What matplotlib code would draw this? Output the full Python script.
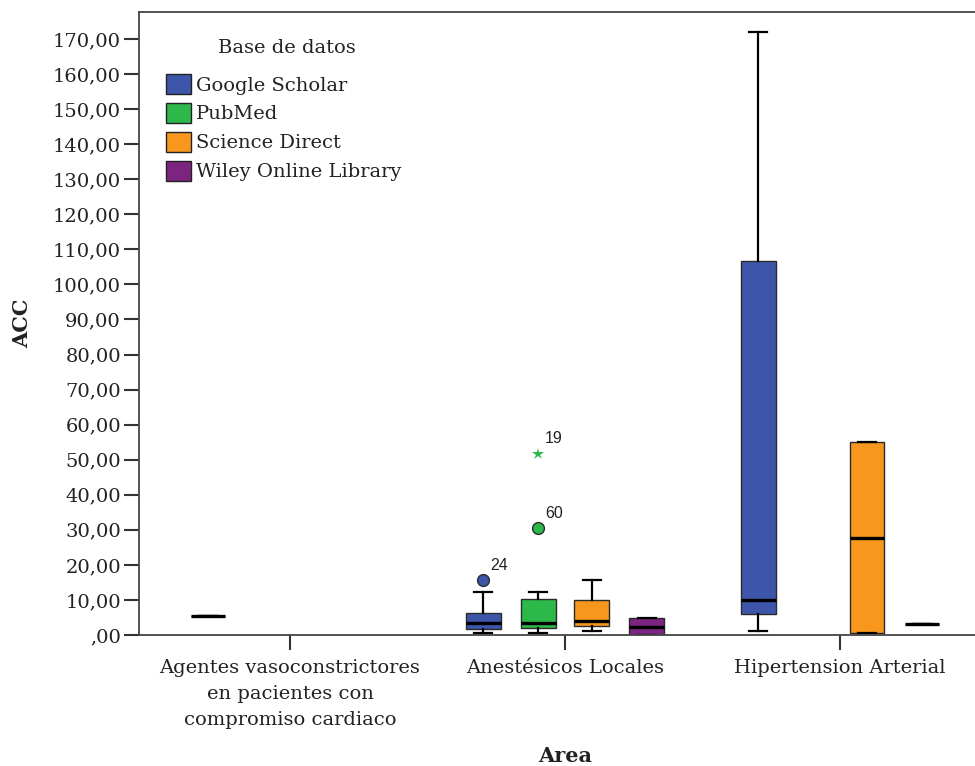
import matplotlib
matplotlib.use("Agg")
import matplotlib.pyplot as plt
from matplotlib.patches import Patch
from matplotlib.ticker import FuncFormatter

# ---- data -------------------------------------------------------------
categories = [
    "Agentes vasoconstrictores\nen pacientes con\ncompromiso cardiaco",
    "Anestésicos Locales",
    "Hipertension Arterial",
]
series = ["Google Scholar", "PubMed", "Science Direct", "Wiley Online Library"]
colors = ["#3d56a9", "#2db84a", "#f7971e", "#7b2580"]

# five-number summaries per category: (whisker low, Q1, median, Q3, whisker high)
google_scholar = [(5.5, 5.5, 5.5, 5.5, 5.5),
                  (0.5, 1.7, 3.3, 6.2, 12.4),
                  (1.0, 6.1, 10.0, 106.8, 172.0)]
pubmed = [None,
          (0.5, 2.1, 3.3, 10.2, 12.4),
          None]
science_direct = [None,
                  (1.2, 2.6, 4.0, 10.0, 15.7),
                  (0.5, 0.5, 27.7, 55.0, 55.0)]
wiley = [None,
         (0.0, 0.0, 2.4, 4.9, 4.9),
         (3.0, 3.0, 3.0, 3.0, 3.0)]
summaries = [google_scholar, pubmed, science_direct, wiley]

# outlying cases
outlier_series = [0, 1, 1]
outlier_category = [1, 1, 1]
outlier_values = [15.6, 30.4, 51.7]
outlier_labels = ["24", "60", "19"]
outlier_extreme = [False, False, True]

yticks = list(range(0, 171, 10))

# ---- figure -----------------------------------------------------------
fig = plt.figure(figsize=(9.75, 7.66), dpi=100)
ax = fig.add_axes([139 / 975, 1 - 635 / 766, 852 / 975, 623 / 766])

offsets = [-0.298, -0.098, 0.098, 0.298]
box_w = 0.127

for s_idx, data in enumerate(summaries):
    stats, pos = [], []
    for c_idx, five in enumerate(data):
        if five is None:
            continue
        lo, q1, med, q3, hi = five
        stats.append(dict(whislo=lo, q1=q1, med=med, q3=q3, whishi=hi, fliers=[]))
        pos.append(c_idx + offsets[s_idx])
    ax.bxp(stats, positions=pos, widths=box_w, capwidths=box_w * 0.5,
           patch_artist=True, showfliers=False, manage_ticks=False,
           boxprops=dict(facecolor=colors[s_idx], edgecolor="#2a2a2a", linewidth=1.0),
           medianprops=dict(color="black", linewidth=2.4, solid_capstyle="butt"),
           whiskerprops=dict(color="black", linewidth=1.6),
           capprops=dict(color="black", linewidth=1.6))

for s_idx, c_idx, val, lab, extreme in zip(outlier_series, outlier_category,
                                           outlier_values, outlier_labels,
                                           outlier_extreme):
    x = c_idx + offsets[s_idx]
    if extreme:
        ax.plot(x, val, marker="*", markersize=9, color=colors[s_idx],
                markeredgewidth=0, linestyle="none")
    else:
        ax.plot(x, val, marker="o", markersize=8.5, markerfacecolor=colors[s_idx],
                markeredgecolor="#2a2a2a", markeredgewidth=1.0, linestyle="none")
    ax.annotate(lab, (x, val), xytext=(5, 11), textcoords="offset points",
                ha="left", va="center", fontsize=11.5,
                family=["Liberation Sans", "DejaVu Sans"], color="#222222")

# ---- axes styling -----------------------------------------------------
serif = ["DejaVu Serif"]
ax.set_xlim(-0.549, 2.549)
ax.set_ylim(0, 177.7)
ax.set_yticks(yticks)
ax.yaxis.set_major_formatter(FuncFormatter(
    lambda v, p: ",00" if v == 0 else f"{int(v)},00"))
ax.set_xticks(range(len(categories)))
ax.set_xticklabels(categories, linespacing=1.57)

for lab in ax.get_xticklabels() + ax.get_yticklabels():
    lab.set_family(serif)
    lab.set_fontsize(14)
    lab.set_color("#222222")

ax.tick_params(axis="both", direction="out", length=11, width=1.5, color="#333333")
ax.tick_params(axis="y", pad=2)
ax.tick_params(axis="x", pad=6)

for side in ["left", "bottom", "top"]:
    ax.spines[side].set_color("#444444")
    ax.spines[side].set_linewidth(1.3)
ax.spines["right"].set_visible(False)

ax.set_ylabel("ACC", family=serif, fontsize=15, fontweight="bold", color="#222222")
ax.yaxis.set_label_coords(-0.126, 0.5)
ax.set_xlabel("Area", family=serif, fontsize=15, fontweight="bold", color="#222222")
ax.xaxis.set_label_coords(0.5, -0.178)

handles = [Patch(facecolor=c, edgecolor="#222222", linewidth=1.0, label=s)
           for c, s in zip(colors, series)]
leg = ax.legend(handles=handles, loc="upper left",
                bbox_to_anchor=(166 / 975, 1 - 74 / 766),
                bbox_transform=fig.transFigure, frameon=False,
                borderaxespad=0, borderpad=0, handlelength=1.3,
                handleheight=1.2, handletextpad=0.26, labelspacing=0.43,
                prop=dict(family=serif, size=14))
for t in leg.get_texts():
    t.set_color("#222222")
fig.text(287 / 975, 1 - 48 / 766, "Base de datos", ha="center", va="center",
         family=serif, fontsize=14, color="#222222")

fig.savefig("out.png", dpi=100, facecolor="white")
